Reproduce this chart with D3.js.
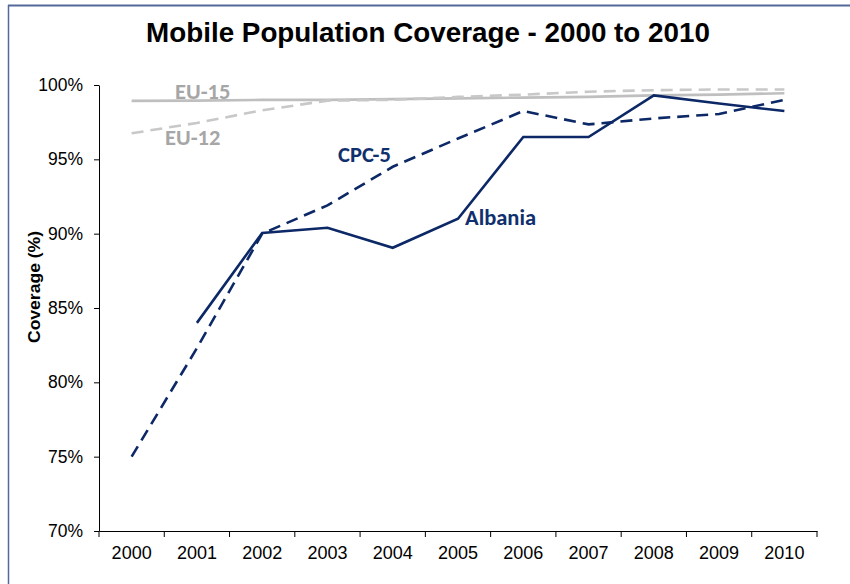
<!DOCTYPE html>
<html><head><meta charset="utf-8">
<script src="https://cdn.jsdelivr.net/npm/d3@7"></script>
<style>body{margin:0;background:#fff}svg{display:block}</style>
</head><body><svg id="c" width="850" height="584"></svg>
<script>
const years = ["2000","2001","2002","2003","2004","2005","2006","2007","2008","2009","2010"];
const albania = [null,84.0,90.05,90.4,89.05,91.0,96.5,96.5,99.3,98.75,98.25];
const cpc5    = [75.0,82.3,90.0,91.9,94.5,96.4,98.25,97.35,97.75,98.05,99.0];
const eu15    = [98.93,98.95,99.0,99.0,99.05,99.1,99.15,99.2,99.3,99.35,99.45];
const eu12    = [96.75,97.45,98.3,98.95,99.0,99.2,99.35,99.55,99.65,99.7,99.7];
const yTicks  = [70,75,80,85,90,95,100];
const title = "Mobile Population Coverage - 2000 to 2010";
const yTitle = "Coverage (%)";

const svg = d3.select("#c");
const navy = "#0c2866";

// frame
svg.append("line").attr("x1",8.5).attr("x2",8.5).attr("y1",5).attr("y2",584).attr("stroke","#54699a").attr("stroke-width",1.5);
svg.append("line").attr("x1",8).attr("x2",850).attr("y1",5.5).attr("y2",5.5).attr("stroke","#54699a").attr("stroke-width",2);

const x = d3.scaleBand().domain(years).range([99,817]);
const y = d3.scaleLinear().domain([70,100]).range([531,85]);
const cx = d => x(d) + x.bandwidth()/2;

// title
svg.append("text").attr("x",428).attr("y",42).attr("text-anchor","middle")
  .attr("font-family","Liberation Sans, Arial, sans-serif").attr("font-weight","bold")
  .attr("font-size",27.8).attr("fill","#000").text(title);

// y axis
const ya = svg.append("g").attr("transform","translate(99,0)")
  .call(d3.axisLeft(y).tickValues(yTicks).tickFormat(d=>d+"%").tickSizeInner(5).tickSizeOuter(0).tickPadding(11));
ya.select(".domain").attr("stroke","#000").attr("stroke-width",1);
ya.selectAll(".tick line").attr("stroke","#000");
ya.selectAll(".tick text").attr("font-family","Liberation Sans, Arial, sans-serif").attr("font-size",17.5).attr("fill","#000");

// x axis
const xa = svg.append("g").attr("transform","translate(0,531)")
  .call(d3.axisBottom(x).tickSize(0).tickPadding(15));
xa.select(".domain").attr("stroke","#000").attr("stroke-width",1);
xa.selectAll(".tick text").attr("font-family","Liberation Sans, Arial, sans-serif").attr("font-size",18).attr("fill","#000");
// boundary ticks
const bounds = years.map(d=>x(d)).concat([x.range()[1]]);
xa.selectAll(".bt").data(bounds).enter().append("line").attr("class","bt")
  .attr("x1",d=>d).attr("x2",d=>d).attr("y1",0).attr("y2",6).attr("stroke","#000");

// y title
svg.append("text").attr("transform","translate(40,287) rotate(-90)").attr("text-anchor","middle")
  .attr("font-family","Liberation Sans, Arial, sans-serif").attr("font-weight","bold")
  .attr("font-size",16).attr("textLength",112).attr("lengthAdjust","spacingAndGlyphs")
  .attr("fill","#000").text(yTitle);

const line = d3.line().defined(d=>d.v!=null).x(d=>cx(d.k)).y(d=>y(d.v));
const mk = arr => years.map((k,i)=>({k, v:arr[i]}));

const series = [
  {data:eu15, color:"#bfbfbf", dash:null},
  {data:eu12, color:"#c8c8c8", dash:"12,7"},
  {data:cpc5, color:navy, dash:"12,7"},
  {data:albania, color:navy, dash:null}
];
series.forEach(s=>{
  svg.append("path").datum(mk(s.data)).attr("d",line).attr("fill","none")
    .attr("stroke",s.color).attr("stroke-width",2.6).attr("stroke-dasharray",s.dash)
    .attr("stroke-linejoin","miter");
});

// labels
const lblFont = "Carlito, Lato, sans-serif";
const labels = [
  {t:"EU-15", x:175, y:99, c:"#a6a6a6"},
  {t:"EU-12", x:165, y:145, c:"#a6a6a6"},
  {t:"CPC-5", x:338, y:162, c:"#10306d"},
  {t:"Albania", x:465, y:225, c:"#10306d"}
];
labels.forEach(l=>{
  svg.append("text").attr("x",l.x).attr("y",l.y).attr("font-family",lblFont)
    .attr("font-weight","bold").attr("font-size",22.5).attr("fill",l.c).text(l.t);
});
</script></body></html>
